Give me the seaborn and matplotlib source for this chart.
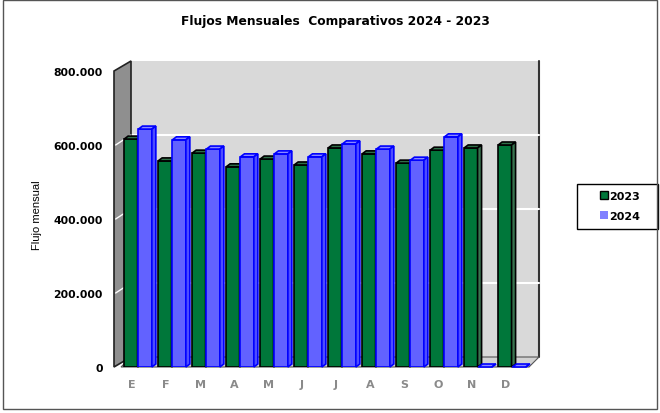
import numpy as np
import pandas as pd
import matplotlib
matplotlib.use('Agg')
import matplotlib.pyplot as plt
import matplotlib.transforms as mtransforms
from matplotlib.patches import Polygon, Rectangle, Patch
import seaborn as sns

# datos (flujo mensual)
meses = ['Ene', 'Feb', 'Mar', 'Abr', 'May', 'Jun', 'Jul', 'Ago', 'Sep', 'Oct', 'Nov', 'Dic']
iniciales = ['E', 'F', 'M', 'A', 'M', 'J', 'J', 'A', 'S', 'O', 'N', 'D']
flujo_2023 = [616000, 557000, 578000, 541000, 562000, 546000, 592000, 576000, 551000, 586000, 592000, 600000]
flujo_2024 = [643000, 614000, 589000, 568000, 576000, 568000, 603000, 589000, 559000, 622000, 0, 0]
anios = ['2023', '2024']
y_ticks = [0, 200000, 400000, 600000, 800000]
y_labels = ['0', '200.000', '400.000', '600.000', '800.000']

verde = '#00773a'
azul = '#6262ff'
azul_borde = '#0000ff'
pared = '#d9d9d9'

df = pd.DataFrame({
    'mes': meses * 2,
    'anio': [anios[0]] * 12 + [anios[1]] * 12,
    'flujo': flujo_2023 + flujo_2024,
})

sns.set_style('white')
plt.rcParams['font.family'] = ['DejaVu Sans']
plt.rcParams['text.color'] = 'black'
plt.rcParams['ytick.color'] = 'black'
plt.rcParams['ytick.labelcolor'] = 'black'

W, H = 660, 414
fig = plt.figure(figsize=(W / 100, H / 100), dpi=100)
# plano frontal del grafico en pixeles
px_left, px_right, px_bottom, px_top = 121, 529, 368, 72
ax = fig.add_axes([px_left / W, 1 - px_bottom / H, (px_right - px_left) / W, (px_bottom - px_top) / H])
ax.patch.set_visible(False)

sns.barplot(data=df, x='mes', y='flujo', hue='anio', hue_order=anios, order=meses,
            palette={'2023': verde, '2024': azul}, width=0.84, gap=0.06,
            saturation=1, legend=False, ax=ax)
ax.set_xlim(-0.5, 11.5)
ax.set_ylim(0, 800000)

ax_w = px_right - px_left
ax_h = px_bottom - px_top
# profundidad de la pared (10 px) en fraccion de ejes
pdx, pdy = 10 / ax_w, 10 / ax_h
frente = 7 / ax_w
off = mtransforms.ScaledTranslation(10 / 100, 10 / 100, fig.dpi_scale_trans)

# pared del fondo
ax.add_patch(Rectangle((0, 0), 1, 1, transform=ax.transAxes + off, facecolor=pared,
                       edgecolor='none', zorder=0, clip_on=False))
ax.plot([1, 1], [0, 1], transform=ax.transAxes + off, color='#333333', lw=1.5, zorder=0.5, clip_on=False)
# lineas de division en la pared
for v in y_ticks[1:-1]:
    ax.plot([0, 1], [v, v], transform=ax.get_yaxis_transform() + off, color='white',
            lw=1.5, zorder=0.6, clip_on=False)
# piso
ax.add_patch(Polygon([(0, 0), (1, 0), (1 + pdx, pdy), (pdx, pdy)], closed=True,
                     transform=ax.transAxes, facecolor='#d2d2d2', edgecolor='#555555',
                     lw=0.8, zorder=0.7, clip_on=False))
# pared lateral izquierda
ax.add_patch(Polygon([(-frente, 0), (-frente, 1), (pdx, 1 + pdy), (pdx, pdy)], closed=True,
                     transform=ax.transAxes, facecolor='#8f8f8f', edgecolor='#222222',
                     lw=1.2, zorder=0.8, clip_on=False))
for v in y_ticks[1:-1]:
    f = v / 800000
    ax.plot([-frente + 0.004, pdx], [f, f + pdy], transform=ax.transAxes, color='white', lw=1,
            zorder=0.9, clip_on=False)

# efecto 3D de las barras a partir de las barras dibujadas
xu = 12 / ax_w
yu = 800000 / ax_h
ddx, ddy = 4 * xu, 3 * yu
estilos = [
    dict(edge='black', top='#2f7048', side='#3a7550'),
    dict(edge=azul_borde, top='#8a8aff', side='#4d4dff'),
]
for k, cont in enumerate(ax.containers):
    est = estilos[k]
    for i, bar in enumerate(cont.patches):
        z = 2 + i * 2 + k
        x0, w, h = bar.get_x(), bar.get_width(), bar.get_height()
        bar.set_edgecolor(est['edge'])
        bar.set_linewidth(1.2)
        bar.set_zorder(z)
        ax.add_patch(Polygon([(x0, h), (x0 + w, h), (x0 + w + ddx, h + ddy), (x0 + ddx, h + ddy)],
                             closed=True, facecolor=est['top'], edgecolor=est['edge'],
                             lw=1.2, zorder=z, clip_on=False))
        ax.add_patch(Polygon([(x0 + w, 0), (x0 + w, h), (x0 + w + ddx, h + ddy), (x0 + w + ddx, ddy)],
                             closed=True, facecolor=est['side'], edgecolor=est['edge'],
                             lw=1.2, zorder=z, clip_on=False))

sns.despine(ax=ax, left=True, bottom=True)
ax.set_xlabel('')
ax.set_ylabel('')
ax.set_yticks(y_ticks)
ax.set_yticklabels(y_labels, fontsize=7.8, fontweight='bold', color='black')
ax.set_xticks(range(12))
ax.set_xticklabels(iniciales, fontsize=8, fontweight='bold', color='#8a8a8a')
ax.tick_params(axis='y', length=0, pad=13)
ax.tick_params(axis='x', length=0, pad=9)
shift = mtransforms.ScaledTranslation(-6 / 100, 0, fig.dpi_scale_trans)
for lab in ax.get_xticklabels():
    lab.set_transform(lab.get_transform() + shift)

fig.text(37 / W, 1 - 215 / H, 'Flujo mensual', rotation=90, ha='center', va='center',
         fontsize=8, family='Liberation Sans', color='black')
fig.text(335 / W, 1 - 22 / H, 'Flujos Mensuales  Comparativos 2024 - 2023', ha='center',
         va='center', fontsize=8.8, fontweight='bold', color='black')

handles = [Patch(facecolor=verde, edgecolor='black', label='2023'),
           Patch(facecolor='#8080ff', edgecolor='none', label='2024')]
leg = fig.legend(handles=handles, loc='center', bbox_to_anchor=(620 / W, 1 - 207 / H),
                 frameon=False, handlelength=0.75, handleheight=0.75,
                 handletextpad=0.15, borderpad=0.0, labelspacing=0.9,
                 labelcolor='black', prop={'weight': 'bold', 'size': 8})
# caja de la leyenda
fig.add_artist(Rectangle((577 / W, 1 - 230 / H), 81 / W, 45 / H, transform=fig.transFigure,
                         fill=False, edgecolor='black', lw=1))

fig.add_artist(Rectangle((3 / W, 4 / H), 654 / W, 409 / H, transform=fig.transFigure,
                         fill=False, edgecolor='#555555', lw=1))

fig.savefig('out.png', dpi=100)
